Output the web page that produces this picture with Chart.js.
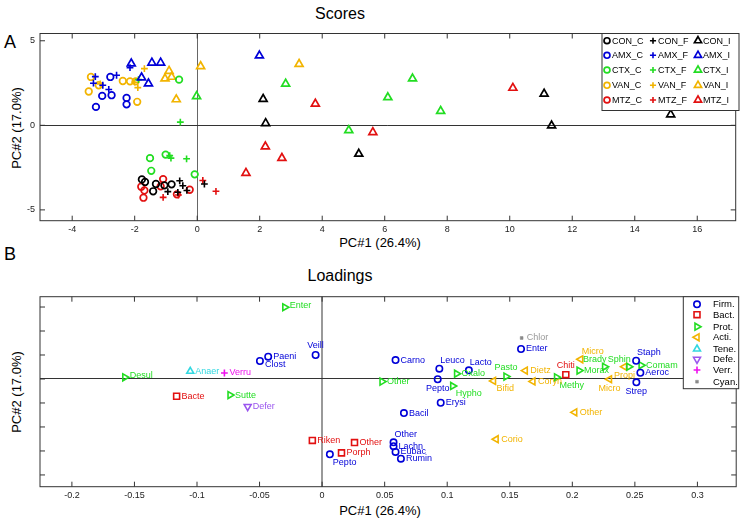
<!DOCTYPE html>
<html>
<head>
<meta charset="utf-8">
<script src="https://cdn.jsdelivr.net/npm/chart.js@4.4.1/dist/chart.umd.min.js"></script>
<style>
body { margin: 0; background: #fff; width: 742px; height: 518px; position: relative; overflow: hidden;
       font-family: "Liberation Sans", Arial, sans-serif; }
canvas { position: absolute; left: 0; }
.txt { position: absolute; white-space: nowrap; color: #000; transform: translate(-50%, -50%); }
.rot { transform: translate(-50%, -50%) rotate(-90deg); }
</style>
</head>
<body>
<div class="txt" style="left:340px;top:14px;font-size:16px">Scores</div>
<div class="txt" style="left:10px;top:42px;font-size:18px">A</div>
<div class="txt rot" style="left:16px;top:128px;font-size:13px">PC#2 (17.0%)</div>
<div class="txt" style="left:380px;top:242px;font-size:13px">PC#1 (26.4%)</div>
<div class="txt" style="left:10px;top:254px;font-size:18px">B</div>
<div class="txt" style="left:340px;top:276px;font-size:16px">Loadings</div>
<div class="txt rot" style="left:16px;top:392px;font-size:13px">PC#2 (17.0%)</div>
<div class="txt" style="left:380px;top:510px;font-size:13px">PC#1 (26.4%)</div>

<canvas id="scores" width="742" height="259" style="top:0"></canvas>
<canvas id="loadings" width="742" height="259" style="top:259px"></canvas>

<script>
'use strict';

// ---- Scores (panel A), [PC1, PC2] per sample ----
const conC = [[-1.77, -3.2], [-1.67, -3.35], [-1.32, -3.47], [-0.82, -3.49], [-1.41, -3.9], [-1.05, -3.55]];
const conF = [[-0.56, -3.28], [-0.46, -3.57], [-0.33, -3.85], [-0.94, -3.92], [-0.62, -3.96], [0.23, -3.47]];
const conI = [[2.11, 1.55], [2.19, 0.12], [5.17, -1.69], [11.1, 1.86], [11.34, -0.02], [15.15, 0.64]];
const amxC = [[-2.78, 2.86], [-3.04, 1.74], [-2.74, 1.78], [-3.24, 1.09], [-2.26, 1.62], [-2.26, 1.24]];
const amxF = [[-3.26, 2.88], [-3.32, 2.49], [-3.02, 2.37], [-2.83, 2.12], [-2.58, 2.96], [-2.15, 3.41]];
const amxI = [[-2.11, 3.65], [-1.45, 3.7], [-1.17, 3.7], [-1.78, 2.82], [-1.56, 2.47], [1.99, 4.12]];
const ctxC = [[-0.58, 2.7], [-1.51, -1.94], [-1.01, -1.73], [-1.47, -2.69], [-0.08, -2.9]];
const ctxF = [[-0.54, 0.19], [-0.88, -1.79], [-0.84, -1.94], [-0.34, -1.98], [-1.88, 2.7]];
const ctxI = [[-0.02, 1.72], [2.83, 2.45], [6.89, 2.76], [6.1, 1.65], [7.79, 0.84], [4.85, -0.3]];
const vanC = [[-3.4, 2.86], [-3.47, 2.0], [-3.15, 2.37], [-2.38, 2.62], [-2.15, 2.6], [-1.97, 2.6], [-1.92, 1.39]];
const vanF = [[-1.69, 3.35], [-1.9, 2.23], [-3.1, 2.45], [-2.0, 2.55]];
const vanI = [[-0.9, 3.21], [-1.03, 2.76], [-0.82, 2.86], [-0.67, 1.53], [0.11, 3.49], [3.26, 3.62]];
const mtzC = [[-1.09, -3.18], [-1.79, -3.63], [-1.69, -3.85], [-1.72, -4.28], [-1.17, -3.61], [-0.65, -4.08], [-0.24, -3.81]];
const mtzF = [[0.18, -3.26], [0.6, -3.9], [-1.09, -4.26], [-0.6, -4.12]];
const mtzI = [[10.1, 2.21], [3.78, 1.27], [5.62, -0.41], [2.18, -1.26], [2.71, -1.94], [1.56, -2.82]];

const xTicksA = [-4, -2, 0, 2, 4, 6, 8, 10, 12, 14, 16];
const yTicksA = [-5, 0, 5];

// ---- Loadings (panel B), names + PC1 + PC2 per genus ----
const firmNames = ['Veill', 'Paeni', 'Clost', 'Carno', 'Leuco', 'Lacto', 'Pepto', 'Erysi', 'Bacil', 'Other', 'Lachn', 'Eubac', 'Rumin', 'Pepto', 'Enter', 'Staph', 'Aeroc', 'Strep'];
const firmX = [-0.0052, -0.0431, -0.0497, 0.0587, 0.0937, 0.1173, 0.0924, 0.0948, 0.0654, 0.0571, 0.0571, 0.0587, 0.063, 0.0062, 0.159, 0.251, 0.2544, 0.2512];
const firmY = [0.100, 0.093, 0.075, 0.079, 0.043, 0.036, -0.001, -0.099, -0.142, -0.264, -0.280, -0.304, -0.332, -0.314, 0.125, 0.076, 0.026, -0.014];
const bactNames = ['Bacte', 'Riken', 'Other', 'Porph', 'Chiti'];
const bactX = [-0.1163, -0.0078, 0.0259, 0.0155, 0.1948];
const bactY = [-0.072, -0.256, -0.265, -0.308, 0.018];
const protNames = ['Enter', 'Desul', 'Sutte', 'Other', 'Oxalo', 'Hypho', 'Pasto', 'Methy', 'Brady', 'Morax', 'Sphin', 'Comam'];
const protX = [-0.0298, -0.1577, -0.0736, 0.0479, 0.1075, 0.1044, 0.147, 0.1874, 0.2258, 0.2054, 0.2452, 0.255];
const protY = [0.299, 0.007, -0.067, -0.011, 0.022, -0.029, 0.010, 0.007, 0.051, 0.035, 0.051, 0.057];
const actiNames = ['Dietz', 'Bifid', 'Coryn', 'Micro', 'Micro', 'Propi', 'Other', 'Corio'];
const actiX = [0.1624, 0.137, 0.1685, 0.2067, 0.2297, 0.2417, 0.2019, 0.1391];
const actiY = [0.035, -0.008, -0.010, 0.082, -0.001, 0.051, -0.139, -0.251];
const teneNames = ['Anaer'];
const teneX = [-0.1054];
const teneY = [0.032];
const defeNames = ['Defer'];
const defeX = [-0.0595];
const defeY = [-0.115];
const verrNames = ['Verru'];
const verrX = [-0.0781];
const verrY = [0.025];
const cyanNames = ['Chlor'];
const cyanX = [0.1595];
const cyanY = [0.171];

const xTicksB = [-0.2, -0.15, -0.1, -0.05, 0, 0.05, 0.1, 0.15, 0.2, 0.25, 0.3];
const yTicksB = [-0.4, -0.3, -0.2, -0.1, 0, 0.1, 0.2, 0.3];

// where each name sits relative to its marker (right, above, below ...)
const firmLabelPos = ['a', 'r', 'rb', 'r', 'ar', 'ar', 'b', 'r', 'r', 'ar', 'r', 'r', 'r', 'br', 'r', 'ar', 'r', 'b'];
const bactLabelPos = ['r', 'r', 'r', 'r', 'a'];
const protLabelPos = ['ra', 'ra', 'r', 'r', 'r', 'br', 'a', 'br', 'al', 'r', 'al', 'r'];
const actiLabelPos = ['r', 'br', 'r', 'ar', 'b', 'b', 'r', 'r'];
const LABEL_OFFSETS = {
    r: [5, 0, 'left'], rb: [5, 4, 'left'], ra: [5, -2, 'left'], l: [-5, 0, 'right'],
    a: [0, -9, 'center'], b: [0, 9, 'center'],
    ar: [1, -8, 'left'], br: [3, 8, 'left'], al: [2, -7, 'right'], bl: [-2, 8, 'right'],
};

const FONT = '"Liberation Sans", Arial, sans-serif';
Chart.defaults.font.family = FONT;
Chart.defaults.color = '#222';

const BLACK = '#000000', BLUE = '#0000d8', GREEN = '#22dd22', ORANGE = '#f2b400', RED = '#e21010';

function toPoints(pairs) {
    return pairs.map(p => ({ x: p[0], y: p[1] }));
}
function zip(xs, ys) {
    return xs.map((x, i) => ({ x: x, y: ys[i] }));
}

function scoreSet(label, pairs, color, kind) {
    const ds = {
        label: label,
        data: toPoints(pairs),
        borderColor: color,
        backgroundColor: 'rgba(0,0,0,0)',
        pointBorderColor: color,
        pointBackgroundColor: 'rgba(0,0,0,0)',
        pointBorderWidth: 1.7,
        showLine: false,
    };
    if (kind === 'C') { ds.pointStyle = 'circle'; ds.pointRadius = 3.3; }
    if (kind === 'F') { ds.pointStyle = 'cross'; ds.pointRadius = 3.4; ds.pointBorderWidth = 1.6; }
    if (kind === 'I') { ds.pointStyle = 'triangle'; ds.pointRadius = 4.6; }
    return ds;
}

// frame box with inward tick marks, like the original
const framePlugin = {
    id: 'frame',
    afterDraw(chart) {
        const { ctx, chartArea: a, scales } = chart;
        ctx.save();
        ctx.strokeStyle = '#333';
        ctx.lineWidth = 1;
        ctx.strokeRect(a.left, a.top, a.right - a.left, a.bottom - a.top);
        ctx.beginPath();
        scales.x.ticks.forEach(t => {
            const px = scales.x.getPixelForValue(t.value);
            ctx.moveTo(px, a.top); ctx.lineTo(px, a.top + 5);
            ctx.moveTo(px, a.bottom); ctx.lineTo(px, a.bottom - 5);
        });
        scales.y.ticks.forEach(t => {
            const py = scales.y.getPixelForValue(t.value);
            ctx.moveTo(a.left, py); ctx.lineTo(a.left + 5, py);
            ctx.moveTo(a.right, py); ctx.lineTo(a.right - 5, py);
        });
        ctx.stroke();
        ctx.restore();
    }
};

const boxLegendPlugin = {
    id: 'boxLegend',
    afterDraw(chart, args, opts) {
        const ctx = chart.ctx;
        ctx.save();
        ctx.fillStyle = '#fff';
        ctx.strokeStyle = '#333';
        ctx.lineWidth = 1;
        ctx.fillRect(opts.left, opts.top, opts.width, opts.height);
        ctx.strokeRect(opts.left, opts.top, opts.width, opts.height);
        ctx.font = opts.font;
        ctx.textBaseline = 'middle';
        ctx.textAlign = 'left';
        chart.data.datasets.forEach((ds, i) => {
            const col = i % opts.cols;
            const row = Math.floor(i / opts.cols);
            const mx = opts.colX[col];
            const my = opts.rowY[row];
            ctx.strokeStyle = ds.pointBorderColor;
            ctx.fillStyle = ds.pointBackgroundColor;
            ctx.lineWidth = ds.pointBorderWidth;
            Chart.helpers.drawPoint(ctx, {
                pointStyle: ds.pointStyle,
                rotation: ds.pointRotation || 0,
                radius: ds.pointRadius * opts.markerScale,
                borderWidth: ds.pointBorderWidth,
            }, mx, my);
            ctx.fillStyle = '#000';
            ctx.fillText(ds.label, mx + opts.textDx, my + 0.5);
        });
        ctx.restore();
    }
};

const pointLabelPlugin = {
    id: 'pointLabels',
    afterDatasetsDraw(chart) {
        const ctx = chart.ctx;
        ctx.save();
        ctx.font = '9px ' + FONT;
        ctx.textBaseline = 'middle';
        chart.data.datasets.forEach((ds, i) => {
            const meta = chart.getDatasetMeta(i);
            meta.data.forEach((el, j) => {
                const off = LABEL_OFFSETS[(ds.labelPos && ds.labelPos[j]) || 'r'];
                ctx.fillStyle = ds.labelColor;
                ctx.textAlign = off[2];
                ctx.fillText(ds.names[j], el.x + off[0], el.y + off[1]);
            });
        });
        ctx.restore();
    }
};

function zeroGrid(color, width) {
    return {
        drawTicks: false,
        color: c => (c.tick && Math.abs(c.tick.value) < 1e-9) ? color : 'rgba(0,0,0,0)',
        lineWidth: width,
    };
}

// ---------- panel A ----------
const scoreSets = [
    scoreSet('CON_C', conC, BLACK, 'C'), scoreSet('CON_F', conF, BLACK, 'F'), scoreSet('CON_I', conI, BLACK, 'I'),
    scoreSet('AMX_C', amxC, BLUE, 'C'), scoreSet('AMX_F', amxF, BLUE, 'F'), scoreSet('AMX_I', amxI, BLUE, 'I'),
    scoreSet('CTX_C', ctxC, GREEN, 'C'), scoreSet('CTX_F', ctxF, GREEN, 'F'), scoreSet('CTX_I', ctxI, GREEN, 'I'),
    scoreSet('VAN_C', vanC, ORANGE, 'C'), scoreSet('VAN_F', vanF, ORANGE, 'F'), scoreSet('VAN_I', vanI, ORANGE, 'I'),
    scoreSet('MTZ_C', mtzC, RED, 'C'), scoreSet('MTZ_F', mtzF, RED, 'F'), scoreSet('MTZ_I', mtzI, RED, 'I'),
];

new Chart(document.getElementById('scores'), {
    type: 'scatter',
    data: { datasets: scoreSets },
    options: {
        responsive: false,
        animation: false,
        layout: { padding: { top: 33.5, right: 2, left: 0, bottom: 0 } },
        plugins: {
            legend: { display: false },
            tooltip: { enabled: false },
            boxLegend: {
                left: 602, top: 33.5, width: 137, height: 77,
                cols: 3, colX: [607, 653, 698], rowY: [40.7, 55.3, 70, 85.3, 100],
                textDx: 5, markerScale: 0.9, font: '9px ' + FONT,
            },
        },
        scales: {
            x: {
                type: 'linear', min: -5.03, max: 17.23,
                afterFit: s => { s.height = 38.3; },
                afterBuildTicks: s => { s.ticks = xTicksA.map(v => ({ value: v })); },
                grid: zeroGrid('#666', 1),
                border: { display: false },
                ticks: { padding: 3, font: { size: 9 }, maxRotation: 0, autoSkip: false },
            },
            y: {
                type: 'linear', min: -5.64, max: 5.43,
                afterFit: s => { s.width = 40; },
                afterBuildTicks: s => { s.ticks = yTicksA.map(v => ({ value: v })); },
                grid: zeroGrid('#333', 1),
                border: { display: false },
                ticks: { padding: 5, font: { size: 9 }, autoSkip: false },
            },
        },
    },
    plugins: [framePlugin, boxLegendPlugin],
});

// ---------- panel B ----------
function loadSet(label, names, xs, ys, color, style, pos, extra) {
    return Object.assign({
        label: label,
        names: names,
        labelPos: pos || [],
        labelColor: color,
        data: zip(xs, ys),
        pointStyle: style,
        pointRadius: 3.2,
        pointBorderWidth: 1.6,
        pointBorderColor: color,
        pointBackgroundColor: 'rgba(0,0,0,0)',
        borderColor: color,
        backgroundColor: 'rgba(0,0,0,0)',
        showLine: false,
    }, extra || {});
}

const loadSets = [
    loadSet('Firm.', firmNames, firmX, firmY, BLUE, 'circle', firmLabelPos),
    loadSet('Bact.', bactNames, bactX, bactY, RED, 'rect', bactLabelPos, { pointRadius: 4.2 }),
    loadSet('Prot.', protNames, protX, protY, GREEN, 'triangle', protLabelPos, { pointRotation: 90, pointRadius: 4 }),
    loadSet('Acti.', actiNames, actiX, actiY, ORANGE, 'triangle', actiLabelPos, { pointRotation: -90, pointRadius: 4 }),
    loadSet('Tene.', teneNames, teneX, teneY, '#33d8e0', 'triangle', null, { pointRadius: 4 }),
    loadSet('Defe.', defeNames, defeX, defeY, '#9a55ee', 'triangle', null, { pointRotation: 180, pointRadius: 4 }),
    loadSet('Verr.', verrNames, verrX, verrY, '#ee11ee', 'cross', null, { pointRadius: 3.4 }),
    loadSet('Cyan.', cyanNames, cyanX, cyanY, '#8a8a8a', 'rect', null,
        { pointRadius: 2, pointBackgroundColor: '#8a8a8a', pointBorderWidth: 0.5, labelColor: '#999' }),
];

new Chart(document.getElementById('loadings'), {
    type: 'scatter',
    data: { datasets: loadSets },
    options: {
        responsive: false,
        animation: false,
        layout: { padding: { top: 37.7, right: 2, left: 0, bottom: 0 } },
        plugins: {
            legend: { display: false },
            tooltip: { enabled: false },
            boxLegend: {
                left: 683.3, top: 37.7, width: 55.4, height: 92,
                cols: 1, colX: [697], rowY: [45.3, 55.7, 67.7, 78.3, 90, 100.3, 111, 122.7],
                textDx: 16, markerScale: 1, font: '9.5px ' + FONT,
            },
        },
        scales: {
            x: {
                type: 'linear', min: -0.2255, max: 0.331,
                afterFit: s => { s.height = 31.3; },
                afterBuildTicks: s => { s.ticks = xTicksB.map(v => ({ value: v })); },
                grid: zeroGrid('#999', 2),
                border: { display: false },
                ticks: {
                    padding: 3, font: { size: 9 }, maxRotation: 0, autoSkip: false,
                    callback: v => String(+v.toFixed(2)),
                },
            },
            y: {
                type: 'linear', min: -0.449, max: 0.343,
                afterFit: s => { s.width = 40; },
                afterBuildTicks: s => { s.ticks = yTicksB.map(v => ({ value: v })); },
                grid: zeroGrid('#333', 1),
                border: { display: false },
                ticks: { display: false },
            },
        },
    },
    plugins: [framePlugin, pointLabelPlugin, boxLegendPlugin],
});
</script>
</body>
</html>
